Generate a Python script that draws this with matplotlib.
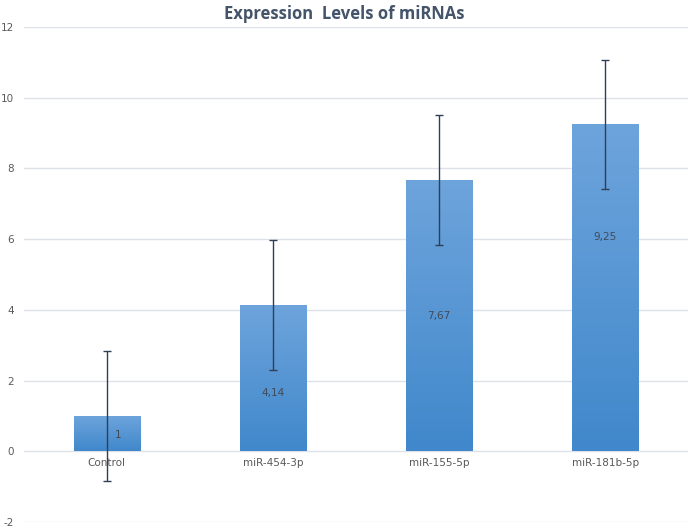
import matplotlib
matplotlib.use("Agg")
import matplotlib.pyplot as plt
import numpy as np
from matplotlib.colors import LinearSegmentedColormap

categories = ["Control", "miR-454-3p", "miR-155-5p", "miR-181b-5p"]
values = [1.0, 4.14, 7.67, 9.25]
errors = [1.85, 1.84, 1.84, 1.83]
value_labels = ["1", "4,14", "7,67", "9,25"]
yticks = [-2, 0, 2, 4, 6, 8, 10, 12]

label_frac = [0.45, 0.40, 0.50, 0.655]
label_dx = [0.07, 0.0, 0.0, 0.0]

fig = plt.figure(figsize=(6.9, 5.27), dpi=100)
ax = fig.add_axes([0.0345, 0.0095, 0.963, 0.9393])

for s in ax.spines.values():
    s.set_visible(False)
ax.set_yticks(yticks)
ax.set_yticklabels([str(t) for t in yticks], fontsize=7.5, color="#595959")
ax.tick_params(axis="y", length=0, pad=7)
ax.set_xticks([])
ax.grid(axis="y", color="#dfe1e8", linewidth=1.0)
ax.set_axisbelow(True)

x = np.arange(len(categories))
width = 0.4
bars = ax.bar(x, values, width=width, color="none", edgecolor="none", zorder=2)
cmap = LinearSegmentedColormap.from_list("g", ["#4088cb", "#6ea4dc"])
grad = np.linspace(0, 1, 256).reshape(-1, 1)
for b in bars:
    x0 = b.get_x(); h = b.get_height(); w = b.get_width()
    im = ax.imshow(grad, extent=[x0, x0 + w, 0, h], origin="lower", cmap=cmap,
                   aspect="auto", zorder=2)
    im.set_clip_path(b)
ax.set_xlim(-0.5, len(categories) - 0.5)
ax.set_ylim(-2, 12)

ax.errorbar(x, values, yerr=errors, fmt="none", ecolor="#2e3e54", elinewidth=1.0,
            capsize=3, capthick=1.0, zorder=3)

for xi, v, lab, f, dx in zip(x, values, value_labels, label_frac, label_dx):
    ax.text(xi + dx, v * f, lab, ha="center", va="center", fontsize=7.5, color="#404a5a", zorder=4)

for xi, c in zip(x, categories):
    ax.text(xi, -0.2, c, ha="center", va="top", fontsize=7.5, color="#595959")

fig.text(0.499, 0.974, "Expression  Levels of miRNAs", ha="center", va="center",
         fontsize=12, fontweight="bold", color="#44546a", family="Open Sans")

fig.savefig("out.png", dpi=100)
